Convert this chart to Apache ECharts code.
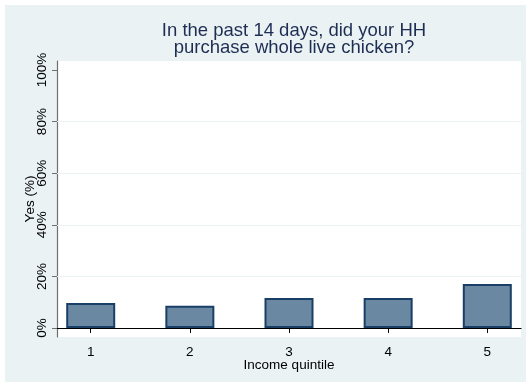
<!DOCTYPE html>
<html>
<head>
<meta charset="utf-8">
<script src="https://cdn.jsdelivr.net/npm/echarts@6/dist/echarts.min.js"></script>
<style>html,body{margin:0;padding:0;background:#fff}#c{width:531px;height:387px}</style>
</head>
<body>
<div id="c"></div>
<script>
var titleText = 'In the past 14 days, did your HH\npurchase whole live chicken?';
var quintiles = [1, 2, 3, 4, 5];
var yesPct = [9.7, 8.6, 11.6, 11.6, 17.0];
var yTicks = [0, 20, 40, 60, 80, 100];
var gridValues = [20, 40, 60, 80];
var xName = 'Income quintile';
var yName = 'Yes (%)';

var chart = echarts.init(document.getElementById('c'), null, {renderer: 'canvas'});
var font = 'Liberation Sans, Arial, Helvetica, sans-serif';
chart.setOption({
  animation: false,
  backgroundColor: '#ffffff',
  graphic: [{
    type: 'rect', z: -100, silent: true,
    shape: {x: 5, y: 5, width: 521, height: 377},
    style: {fill: '#eaf2f3'}
  }],
  title: {
    text: titleText,
    left: 289, top: 17, textAlign: 'center',
    textStyle: {fontFamily: font, fontSize: 18.5, fontWeight: 'normal', color: '#1e2d53', lineHeight: 17}
  },
  grid: {
    left: 57, right: 10, top: 61, bottom: 50,
    show: true, backgroundColor: '#ffffff', borderWidth: 0
  },
  xAxis: {
    type: 'value', min: 0.66, max: 5.34,
    name: xName, nameLocation: 'middle', nameGap: 21, nameMoveOverlap: false,
    nameTextStyle: {fontFamily: font, fontSize: 13.5, color: '#000'},
    axisLine: {show: true, lineStyle: {color: '#000', width: 1.2}},
    axisTick: {show: true, length: 5, customValues: quintiles, lineStyle: {color: '#000'}},
    axisLabel: {customValues: quintiles, margin: 8, fontFamily: font, fontSize: 13.5, color: '#000'},
    splitLine: {show: false}
  },
  yAxis: {
    type: 'value', min: -3.5, max: 103.5,
    name: yName, nameLocation: 'middle', nameGap: 20, nameRotate: 90, nameMoveOverlap: false,
    nameTextStyle: {fontFamily: font, fontSize: 13.5, color: '#000'},
    axisLine: {show: true, lineStyle: {color: '#6e6e6e', width: 1.2}},
    axisTick: {show: true, length: 5, customValues: yTicks, lineStyle: {color: '#6e6e6e'}},
    axisLabel: {customValues: yTicks, rotate: 90, margin: 8, fontFamily: font, fontSize: 13.5, color: '#000', formatter: '{value}%'},
    splitLine: {show: false}
  },
  series: [{
    type: 'bar',
    data: quintiles.map(function (q, i) { return [q, yesPct[i]]; }),
    barWidth: 49,
    itemStyle: {color: '#6b88a3', borderColor: '#1a3f66', borderWidth: 2},
    markLine: {
      silent: true, symbol: 'none', label: {show: false},
      lineStyle: {color: '#eaf2f3', width: 1, type: 'solid'},
      data: gridValues.map(function (v) { return {yAxis: v}; })
    }
  }]
});
</script>
</body>
</html>
